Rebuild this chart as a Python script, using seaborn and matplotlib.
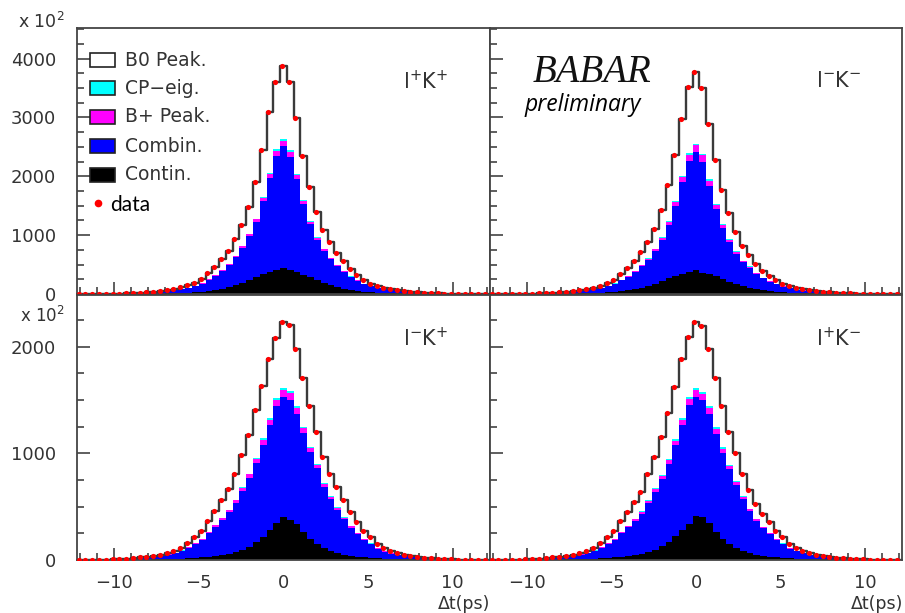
import numpy as np
import pandas as pd
import matplotlib
matplotlib.use("Agg")
import matplotlib.pyplot as plt
import seaborn as sns
from matplotlib.patches import Rectangle
from matplotlib.lines import Line2D
from matplotlib.ticker import MultipleLocator

sns.set_theme(style="ticks")
plt.rcParams['font.family'] = ['DejaVu Sans']
plt.rcParams['mathtext.default'] = 'regular'

# ---------------- data (events per 0.4 ps bin, units of 10^2) ----------------
# stacked levels: contin top, combin top, B+ top, CP top, total (= data)
tl_data = [0,0,0,1,2,4,6,10,15,22, 31,42,55,72,92,115,145,190,252,349, 452,595,738,939,1167,1482,1911,2455,3085,3600, 3880,
           3600,2987,2352,1826,1396,1082,881,698,567,424, 326,235,177,138,110,88,68,52,40,30, 21,14,9,6,4,2,1,0,0,0]
tl_cp = [0,0,0,1,2,3,5,8,12,18, 26,35,45,58,73,90,110,142,185,250, 320,410,509,652,824,1024,1282,1654,2060,2460, 2630,
         2440,2040,1600,1240,970,770,620,490,395,300, 235,175,135,104,85,68,54,43,33,25, 18,12,8,5,3,2,1,0,0,0]
tl_bp = [0,0,0,1,2,3,5,8,12,18, 26,35,44,57,72,89,109,141,183,248, 317,406,504,646,816,1014,1270,1638,2040,2436, 2605,
         2416,2020,1584,1228,960,762,614,485,391,297, 233,173,134,103,84,67,53,42,33,25, 18,12,8,5,3,2,1,0,0,0]
tl_comb = [0,0,0,1,2,3,5,8,12,18, 25,34,43,55,70,86,105,136,177,239, 306,392,486,623,787,978,1225,1580,1968,2351, 2515,
           2331,1949,1528,1185,926,735,592,468,377,287, 225,167,129,99,81,65,51,41,32,24, 17,12,8,5,3,2,1,0,0,0]
tl_cont = [0,0,0,0,0,0,1,1,2,3, 4,6,8,11,15,19,25,32,42,55, 70,90,115,150,190,240,290,340,375,405, 440,
           400,368,330,282,232,185,145,112,88,68, 53,40,31,24,18,14,10,7,5,4, 3,2,1,1,0,0,0,0,0,0]

tr_data = [0,0,0,1,2,4,6,9,14,20, 29,40,52,68,88,110,140,185,245,338, 441,567,710,882,1110,1425,1854,2369,2970,3514, 3780,
           3500,2884,2283,1768,1368,1053,824,670,509,395, 309,235,175,132,100,80,62,48,37,28, 20,14,9,6,4,2,1,0,0,0]
tr_cp = [0,0,0,1,2,3,5,8,12,17, 25,34,43,55,70,87,105,137,179,243, 313,397,497,609,766,969,1242,1587,2005,2390, 2550,
         2380,1947,1530,1185,930,727,569,469,356,280, 222,172,130,99,77,63,50,39,31,24, 17,12,8,5,3,2,1,0,0,0]
tr_bp = [0,0,0,1,2,3,5,8,12,17, 25,34,43,54,69,86,104,136,177,241, 310,393,492,603,758,959,1230,1571,1985,2366, 2525,
         2356,1927,1515,1173,921,720,563,464,352,277, 220,170,129,98,76,62,49,38,31,24, 17,12,8,5,3,2,1,0,0,0]
tr_comb = [0,0,0,1,2,3,5,8,12,17, 24,33,41,52,66,82,99,130,169,230, 296,375,470,576,724,915,1174,1500,1895,2258, 2410,
           2249,1839,1446,1120,879,687,537,443,336,264, 210,162,123,94,73,59,47,36,30,23, 16,12,8,5,3,2,1,0,0,0]
tr_cont = [0,0,0,0,0,0,1,1,2,3, 4,5,7,10,13,17,23,29,38,50, 64,82,105,137,173,218,265,310,342,370, 400,
           365,335,300,257,212,168,132,102,80,62, 48,37,28,22,16,12,9,7,5,3, 2,2,1,1,0,0,0,0,0,0]

bl_data = [0,0,1,2,4,6,9,13,18,24, 31,40,51,66,85,117,164,211,274,369, 463,558,668,810,983,1172,1408,1629,1881,2086, 2228,
           2205,1982,1708,1440,1204,967,810,684,558,447, 353,274,211,148,110,82,63,48,37,28, 21,15,11,7,5,3,2,1,0,0]
bl_cp = [0,0,1,2,3,5,8,12,16,21, 27,34,42,53,67,90,122,157,200,265, 330,395,470,565,680,810,960,1140,1329,1519, 1613,
         1581,1440,1250,1062,904,720,600,495,400,318, 255,200,155,110,83,63,49,39,31,24, 18,13,9,6,4,2,1,1,0,0]
bl_bp = [0,0,1,2,3,5,8,12,16,20, 26,33,41,52,66,89,121,155,198,262, 327,391,465,559,673,802,950,1129,1316,1504, 1597,
         1565,1426,1238,1051,895,713,594,490,396,315, 252,198,153,109,82,62,48,38,30,23, 18,13,9,6,4,2,1,1,0,0]
bl_comb = [0,0,1,2,3,5,8,12,16,20, 25,32,39,50,63,85,116,149,190,251, 314,375,446,536,646,770,912,1083,1263,1443, 1532,
           1502,1368,1188,1009,859,684,570,470,380,302, 242,190,147,105,79,60,46,36,29,22, 18,13,9,6,4,2,1,1,0,0]
bl_cont = [0,0,0,0,0,1,1,1,2,3, 4,5,7,9,11,14,17,21,25,30, 37,45,56,72,97,126,168,215,280,345, 400,
           372,337,258,195,148,110,85,63,48,39, 31,26,21,17,14,11,9,7,5,4, 3,2,1,1,1,0,0,0,0,0]

br_data = [0,0,1,2,4,6,9,13,18,24, 31,40,51,66,85,117,164,211,274,362, 447,542,636,810,967,1156,1377,1623,1881,2095, 2228,
           2196,1982,1708,1440,1204,999,810,652,526,432, 353,274,211,148,117,85,64,49,38,29, 22,16,11,8,5,3,2,1,0,0]
br_cp = [0,0,1,2,3,5,8,12,16,21, 27,34,42,53,67,90,122,157,200,262, 322,385,455,562,672,800,950,1130,1330,1525, 1610,
         1575,1440,1245,1055,895,740,600,480,385,312, 255,200,155,110,87,66,50,40,32,25, 19,14,9,7,4,2,1,1,0,0]
br_bp = [0,0,1,2,3,5,8,12,16,20, 26,33,41,52,66,89,121,155,198,259, 319,381,450,556,665,792,941,1119,1317,1510, 1594,
         1559,1426,1233,1044,886,733,594,475,381,309, 252,198,153,109,86,65,49,39,31,24, 19,14,9,7,4,2,1,1,0,0]
br_comb = [0,0,1,2,3,5,8,12,16,20, 25,32,39,50,63,85,116,149,190,249, 306,366,432,534,638,760,903,1074,1264,1449, 1530,
           1496,1368,1183,1002,850,703,570,456,366,297, 242,190,147,105,83,62,47,37,30,23, 19,14,9,7,4,2,1,1,0,0]
br_cont = [0,0,0,0,0,1,1,1,2,3, 4,5,7,9,11,14,17,21,25,30, 37,46,57,74,98,128,172,222,285,340, 415,
           400,345,265,200,152,112,86,64,49,39, 31,26,21,17,14,11,9,7,5,4, 3,2,1,1,1,0,0,0,0,0]

panel_labels = [r'l$^{+}$K$^{+}$', r'l$^{-}$K$^{-}$', r'l$^{-}$K$^{+}$', r'l$^{+}$K$^{-}$']
legend_labels = ['B0 Peak.', 'CP\u2212eig.', 'B+ Peak.', 'Combin.', 'Contin.']
legend_colors = ['#ffffff', '#00ffff', '#ff00ff', '#0000ff', '#000000']

# ---------------- figure ----------------
W, H = 905, 613
fig = plt.figure(figsize=(W / 100, H / 100), dpi=100)
fig.patch.set_facecolor('white')


def fx(x):
    return x / W


def fy(y):
    return 1 - y / H


edges = np.linspace(-12.2, 12.2, 62)
centers = (edges[:-1] + edges[1:]) / 2
bin_list = [float(e) for e in edges]

panels = [
    (tl_data, tl_cp, tl_bp, tl_comb, tl_cont),
    (tr_data, tr_cp, tr_bp, tr_comb, tr_cont),
    (bl_data, bl_cp, bl_bp, bl_comb, bl_cont),
    (br_data, br_cp, br_bp, br_comb, br_cont),
]
boxes = [(77, 28, 490, 294), (490, 28, 902, 294), (77, 295, 490, 560), (490, 295, 902, 560)]
ytops = [4520, 4520, 2485, 2485]
label_pos = [(426, 81), (839, 81), (426, 338), (839, 338)]
ink = '#333333'

for i, (series, box) in enumerate(zip(panels, boxes)):
    data, cp, bp, comb, cont = [np.asarray(s, dtype=float) for s in series]
    df = pd.DataFrame({'t': centers, 'data': data, 'cp': cp, 'bp': bp, 'comb': comb, 'cont': cont})
    l, t, r, b = box
    ax = fig.add_axes([fx(l), fy(b), (r - l) / W, (b - t) / H])
    ax.set_facecolor('white')
    layers = [('data', '#ffffff'), ('cp', '#00ffff'), ('bp', '#ff00ff'), ('comb', '#0000ff'), ('cont', '#000000')]
    for col_name, col in layers:
        sns.histplot(data=df, x='t', weights=col_name, bins=bin_list, element='step', fill=True,
                     color=col, alpha=1, linewidth=0, ax=ax)
    sns.histplot(data=df, x='t', weights='data', bins=bin_list, element='step', fill=False,
                 color='#3a3a3a', linewidth=1.7, ax=ax)
    sns.scatterplot(x=centers - 0.1, y=data, color='#ff0000', s=14, linewidth=0, ax=ax, zorder=5)

    ax.set_xlim(-12.2, 12.2)
    ax.set_ylim(0, ytops[i])
    ax.set_xlabel('')
    ax.set_ylabel('')
    ax.xaxis.set_major_locator(MultipleLocator(5))
    ax.xaxis.set_minor_locator(MultipleLocator(1))
    ax.yaxis.set_major_locator(MultipleLocator(1000))
    ax.yaxis.set_minor_locator(MultipleLocator(250))
    ax.tick_params(which='both', direction='in', top=False, right=False,
                   color=ink, labelcolor=ink, labelsize=13, width=1.1)
    ax.tick_params(which='major', length=9)
    ax.tick_params(which='minor', length=5)
    ax.tick_params(axis='y', pad=15)
    ax.tick_params(axis='x', pad=10)
    for s in ax.spines.values():
        s.set_color('#444444')
        s.set_linewidth(1.3)
    if i < 2:
        ax.tick_params(labelbottom=False)
    if i % 2 == 1:
        ax.tick_params(labelleft=False)
    lx, ly = label_pos[i]
    fig.text(fx(lx), fy(ly), panel_labels[i], ha='center', va='center', fontsize=15, color=ink)

# multipliers and axis titles
fig.text(fx(18), fy(22), r'x 10$^{2}$', ha='left', va='center', fontsize=12.5, color=ink)
fig.text(fx(20), fy(316), r'x 10$^{2}$', ha='left', va='center', fontsize=12, color=ink)
fig.text(fx(490), fy(604), '\u0394t(ps)', ha='right', va='center', fontsize=12.5, color=ink)
fig.text(fx(903), fy(604), '\u0394t(ps)', ha='right', va='center', fontsize=12.5, color=ink)

# legend (ROOT style)
rows = [60, 88, 117, 146, 175]
for lab, col, yy in zip(legend_labels, legend_colors, rows):
    fig.add_artist(Rectangle((fx(90), fy(yy + 7)), 25 / W, 14 / H, transform=fig.transFigure,
                             facecolor=col, edgecolor='#222222', linewidth=1.2, zorder=5))
    fig.text(fx(125), fy(yy), lab, ha='left', va='center', fontsize=13.5, color=ink, zorder=6)
fig.add_artist(Line2D([fx(98)], [fy(203)], marker='o', markersize=5.5, color='#ff0000',
                      markeredgewidth=0, linestyle='none', transform=fig.transFigure, zorder=6))
fig.text(fx(110), fy(205), 'data', ha='left', va='center', fontsize=15, color='black',
         family=['Lato', 'DejaVu Sans'], zorder=6)

# BABAR preliminary
fig.text(fx(533), fy(82), 'BABAR', ha='left', va='baseline', fontsize=28, style='italic',
         family=['Liberation Serif', 'DejaVu Serif'], color='#111111', zorder=6)
fig.text(fx(525), fy(111), 'preliminary', ha='left', va='baseline', fontsize=16.5, style='italic',
         family=['Open Sans', 'Lato', 'DejaVu Sans'], color='black', zorder=6)

fig.savefig('out.png', dpi=100, facecolor='white')
